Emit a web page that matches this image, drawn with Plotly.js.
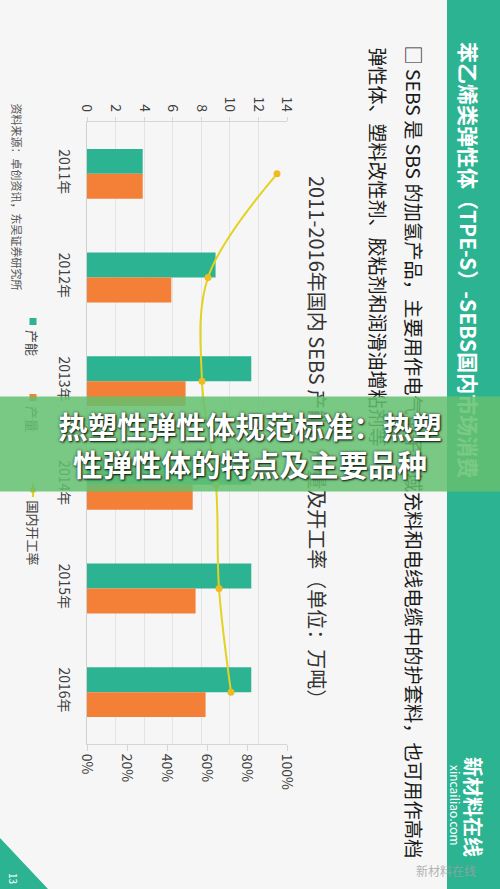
<!DOCTYPE html>
<html>
<head>
<meta charset="utf-8">
<script src="https://cdn.plot.ly/plotly-3.0.1.min.js"></script>
<style>html,body{margin:0;padding:0;background:#f6f6f6;}#chart{width:500px;height:889px;}</style>
</head>
<body>
<div id="chart"></div>
<script>
// ---- data ----
const years = ['2011年', '2012年', '2013年', '2014年', '2015年', '2016年'];
const capacity = [3.9, 9.0, 11.5, 11.5, 11.5, 11.5];      // 产能 (万吨)
const output = [3.9, 5.9, 6.9, 7.4, 7.6, 8.3];            // 产量 (万吨)
const utilization = [0.95, 0.605, 0.575, 0.645, 0.66, 0.72]; // 国内开工率
const leftTicks = [0, 2, 4, 6, 8, 10, 12, 14];
const seriesNames = ['产能', '产量', '国内开工率'];
const chartTitle = '2011-2016年国内 SEBS 产能、产量及开工率（单位：万吨）';
const headerText = '苯乙烯类弹性体（TPE-S）-SEBS国内市场消费';
const bulletLine1 = '□ SEBS 是 SBS 的加氢产品，主要用作电气电子领域充料和电线电缆中的护套料，也可用作高档';
const bulletLine2 = '弹性体、塑料改性剂、胶粘剂和润滑油增粘剂等';
const sourceText = '资料来源：卓创资讯，东吴证券研究所';
const captionText = '热塑性弹性体规范标准：热塑<br>性弹性体的特点及主要品种';

// ---- layout helpers (pixel -> paper) ----
const L = 87, T = 122, W = 200, H = 622;
const PX = p => (p - L) / W;
const PY = p => (T + H - p) / H;

const TEAL = '#2bb392', ORANGE = '#f47f36', YEL = '#e3d21f', FONT = '"Noto Sans CJK SC", "Noto Sans", sans-serif';

const traces = [
  {type: 'bar', orientation: 'h', name: seriesNames[0], x: capacity, y: years,
   marker: {color: TEAL}, xaxis: 'x', yaxis: 'y', hoverinfo: 'x'},
  {type: 'bar', orientation: 'h', name: seriesNames[1], x: output, y: years,
   marker: {color: ORANGE}, xaxis: 'x', yaxis: 'y', hoverinfo: 'x'},
  {type: 'scatter', mode: 'lines+markers', name: seriesNames[2], x: utilization, y: years,
   xaxis: 'x2', yaxis: 'y', line: {color: YEL, width: 2, shape: 'spline', smoothing: 1},
   marker: {color: '#efbb22', size: 7}}
];

function rot(text, x, y, size, color, extra) {
  return Object.assign({text: text, x: PX(x), y: PY(y), xref: 'paper', yref: 'paper',
    textangle: 90, showarrow: false, xanchor: 'center', yanchor: 'top',
    font: {family: FONT, size: size, color: color}}, extra || {});
}

const annotations = [
  rot(headerText, 469, 40, 21, '#ffffff', {font: {family: FONT, size: 21, color: '#ffffff', weight: 700}}),
  rot(bulletLine1, 414, 43, 19.3, '#1a1a1a'),
  rot(bulletLine2, 378, 45, 19, '#1a1a1a'),
  rot(chartTitle, 318, 442, 20, '#333333', {yanchor: 'middle'}),
  rot(sourceText, 17, 101, 11, '#555555'),
  rot(seriesNames[0], 33, 328, 13, '#444444'),
  rot(seriesNames[1], 33, 404, 13, '#444444'),
  rot(seriesNames[2], 33, 498, 13, '#444444'),
  rot('新材料在线', 474, 807, 20, '#ffffff', {yanchor: 'middle', font: {family: FONT, size: 20, color: '#ffffff', weight: 700}}),
  rot('xincailiao.com', 456, 805, 12, '#ffffff', {yanchor: 'middle'}),
  rot('13', 14, 878, 10, '#ffffff', {yanchor: 'middle'}),
  {text: '新材料在线', x: PX(446), y: PY(870), xref: 'paper', yref: 'paper', showarrow: false,
   xanchor: 'center', yanchor: 'middle', font: {family: FONT, size: 12, color: 'rgba(160,160,160,0.8)'}},
  {text: captionText, x: PX(250), y: PY(444), xref: 'paper', yref: 'paper', showarrow: false,
   xanchor: 'center', yanchor: 'middle', width: 500, height: 94, borderpad: 0, align: 'center', valign: 'middle',
   bgcolor: 'rgba(100,192,112,0.86)',
   font: {family: FONT, size: 29.5, color: '#ffffff', weight: 700, shadow: '1px 1px 2px rgba(0,0,0,0.85), 0 0 3px rgba(0,0,0,0.6)'}}
];

const shapes = [
  {type: 'rect', xref: 'paper', yref: 'paper', x0: PX(447), x1: PX(500), y0: PY(0), y1: PY(889),
   fillcolor: TEAL, line: {width: 0}, layer: 'above'},
  {type: 'path', xref: 'paper', yref: 'paper',
   path: 'M ' + PX(0) + ' ' + PY(838) + ' L ' + PX(0) + ' ' + PY(889) + ' L ' + PX(48) + ' ' + PY(889) + ' Z',
   fillcolor: TEAL, line: {width: 0}, layer: 'above'},
  {type: 'rect', xref: 'paper', yref: 'paper', x0: PX(29.5), x1: PX(36.5), y0: PY(318), y1: PY(325),
   fillcolor: TEAL, line: {width: 0}, layer: 'above'},
  {type: 'rect', xref: 'paper', yref: 'paper', x0: PX(29.5), x1: PX(36.5), y0: PY(394), y1: PY(401),
   fillcolor: ORANGE, line: {width: 0}, layer: 'above'},
  {type: 'line', xref: 'paper', yref: 'paper', x0: PX(33), x1: PX(33), y0: PY(483), y1: PY(497),
   line: {color: YEL, width: 2}, layer: 'above'},
  {type: 'circle', xref: 'paper', yref: 'paper', x0: PX(30), x1: PX(36), y0: PY(487), y1: PY(493),
   fillcolor: '#efbb22', line: {width: 0}, layer: 'above'}
];

const tickFont = {family: FONT, size: 14, color: '#404040'};
const layout = {
  width: 500, height: 889,
  margin: {l: L, r: 500 - L - W, t: T, b: 889 - T - H, pad: 0},
  paper_bgcolor: '#f6f6f6', plot_bgcolor: '#f6f6f6',
  showlegend: false, barmode: 'group', bargap: 0.52, bargroupgap: 0,
  font: {family: FONT},
  xaxis: {range: [0, 14], side: 'top', tickvals: leftTicks, tickangle: 90, showgrid: true,
    gridcolor: '#e3e3e3', gridwidth: 1, showline: true, linecolor: '#d6d6d6', ticks: 'outside',
    ticklen: 4, tickcolor: '#d6d6d6', zeroline: false, tickfont: tickFont, fixedrange: true},
  xaxis2: {range: [0, 1], overlaying: 'x', side: 'bottom', anchor: 'y', dtick: 0.2, tick0: 0,
    tickformat: '.0%', tickangle: 90, showgrid: false, showline: true, linecolor: '#d6d6d6',
    ticks: 'outside', ticklen: 6, tickcolor: '#d6d6d6', zeroline: false, tickfont: tickFont, fixedrange: true},
  yaxis: {type: 'category', autorange: 'reversed', tickangle: 90, showline: true, linecolor: '#d0d0d0',
    showgrid: false, ticks: 'outside', ticklen: 10, tickcolor: 'rgba(0,0,0,0)', tickfont: tickFont, fixedrange: true},
  annotations: annotations,
  shapes: shapes
};

Plotly.newPlot('chart', traces, layout, {displayModeBar: false, staticPlot: true});
</script>
</body>
</html>
